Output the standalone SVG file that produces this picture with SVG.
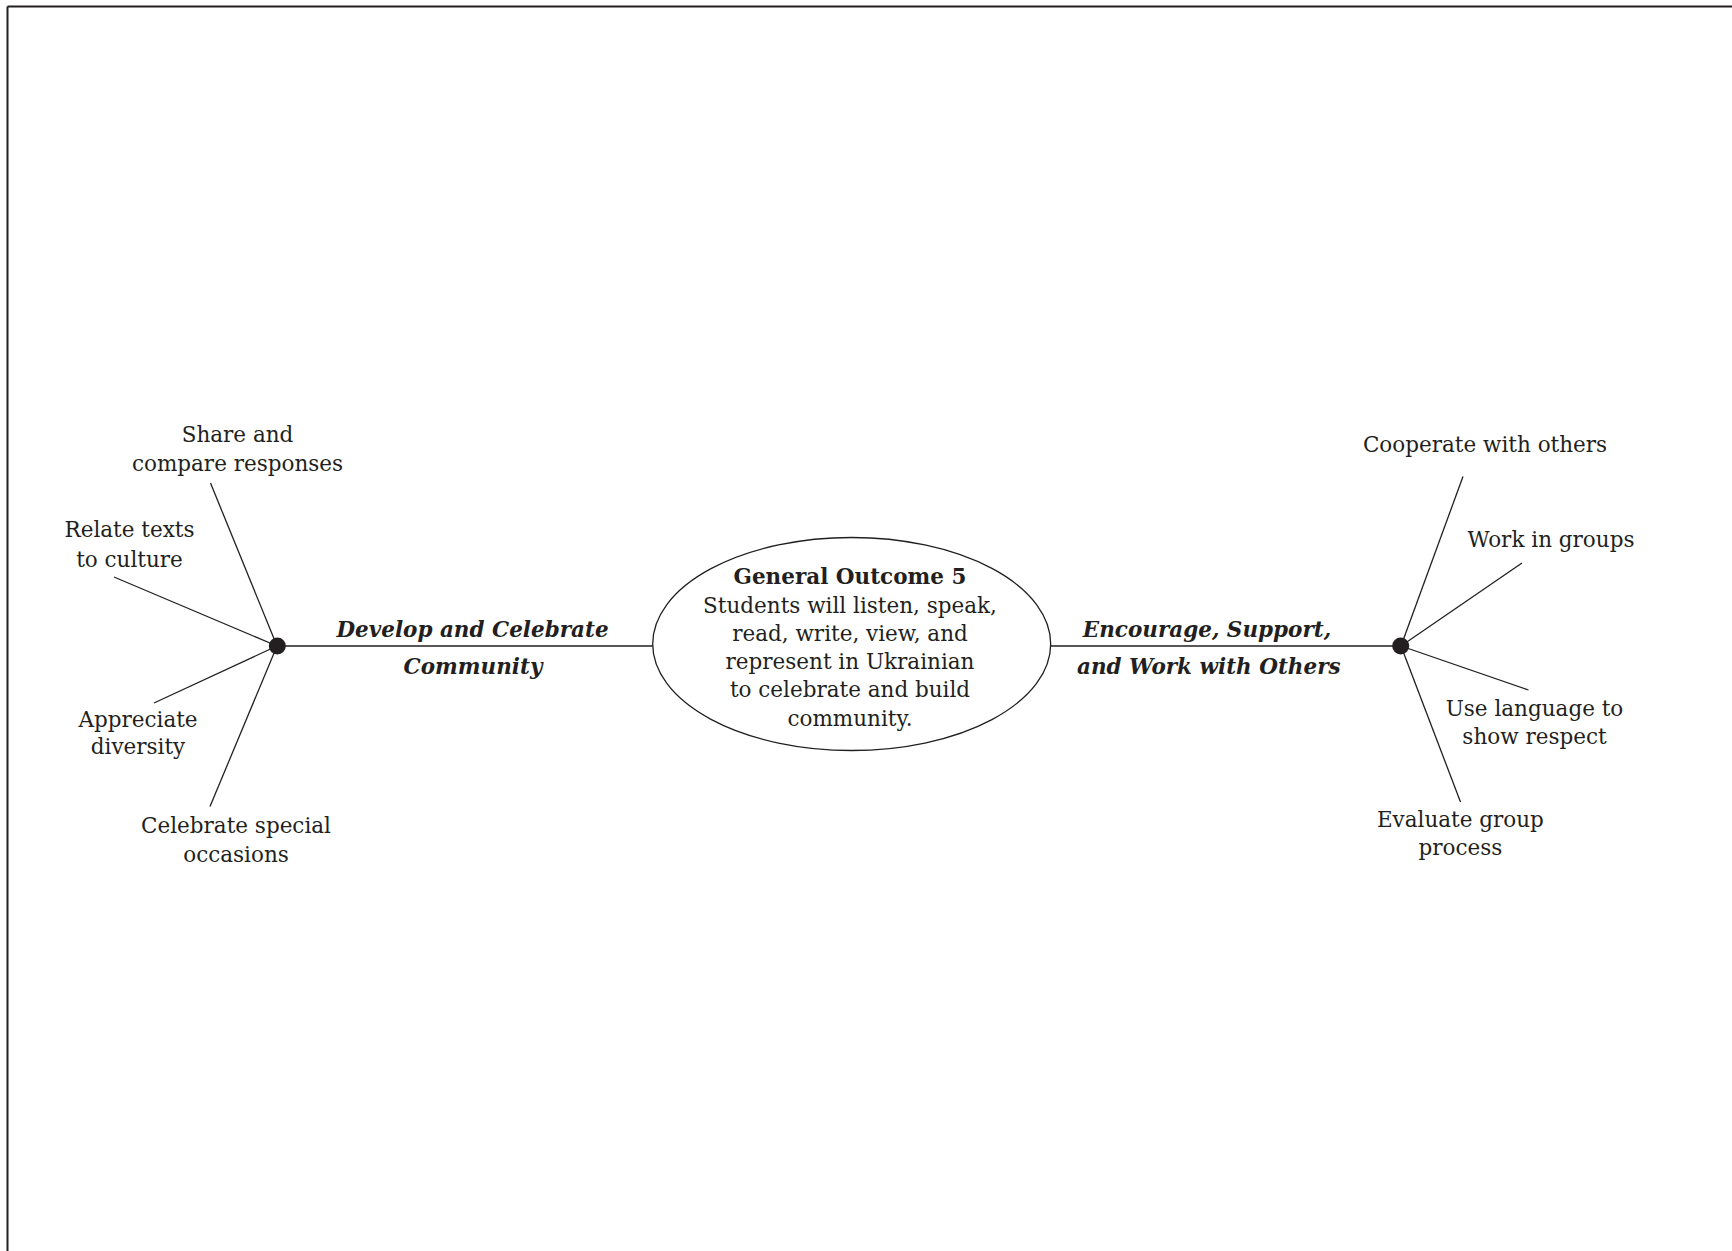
<svg xmlns="http://www.w3.org/2000/svg" width="1732" height="1251" viewBox="0 0 1732 1251">
<style>
  text { font-family: "DejaVu Serif", "Liberation Serif", serif; font-size: 21.5px; fill: #231f20; text-anchor: middle; }
  .lbl { font-weight: bold; font-style: italic; }
  .title { font-weight: bold; }
  .ln { stroke: #231f20; stroke-width: 1.3; fill: none; }
  .dot { fill: #231f20; }
</style>
<rect width="1732" height="1251" fill="#ffffff"/>
<g id="frame">
  <line x1="7.5" y1="6.5" x2="1732" y2="6.5" stroke="#231f20" stroke-width="2"/>
  <line x1="7.5" y1="6.5" x2="7.5" y2="1251" stroke="#231f20" stroke-width="2"/>
</g>
<g id="connectors">
  <line class="ln" x1="277" y1="646" x2="653" y2="646"/>
  <line class="ln" x1="1050.5" y1="646" x2="1401" y2="646"/>
  <line class="ln" x1="277" y1="646" x2="210.5" y2="483"/>
  <line class="ln" x1="277" y1="646" x2="114" y2="577"/>
  <line class="ln" x1="277" y1="646" x2="154" y2="703"/>
  <line class="ln" x1="277" y1="646" x2="210" y2="806.5"/>
  <line class="ln" x1="1401" y1="646" x2="1463" y2="476.5"/>
  <line class="ln" x1="1401" y1="646" x2="1522" y2="563"/>
  <line class="ln" x1="1401" y1="646" x2="1528.5" y2="690"/>
  <line class="ln" x1="1401" y1="646" x2="1460.5" y2="802"/>
</g>
<g id="center">
  <ellipse cx="851.7" cy="644" rx="199" ry="106.5" fill="#ffffff" stroke="#231f20" stroke-width="1.3"/>
  <text class="title" x="850" y="584">General Outcome 5</text>
  <text x="850" y="612.7">Students will listen, speak,</text>
  <text x="850" y="640.7">read, write, view, and</text>
  <text x="850" y="669.3">represent in Ukrainian</text>
  <text x="850" y="697.3">to celebrate and build</text>
  <text x="850" y="726">community.</text>
</g>
<g id="hub-left"><circle class="dot" cx="277.3" cy="646" r="8.5"/></g>
<g id="hub-right"><circle class="dot" cx="1400.7" cy="646" r="8.5"/></g>
<g id="label-left">
  <text class="lbl" x="472.5" y="636.7">Develop and Celebrate</text>
  <text class="lbl" x="473" y="674">Community</text>
</g>
<g id="label-right">
  <text class="lbl" x="1207" y="636.7">Encourage, Support,</text>
  <text class="lbl" x="1208.8" y="674">and Work with Others</text>
</g>
<g id="share">
  <text x="237.5" y="441.7">Share and</text>
  <text x="237.5" y="470.7">compare responses</text>
</g>
<g id="relate">
  <text x="129.5" y="537.3">Relate texts</text>
  <text x="129.5" y="566.7">to culture</text>
</g>
<g id="appreciate">
  <text x="138" y="726.7">Appreciate</text>
  <text x="138" y="754">diversity</text>
</g>
<g id="celebrate">
  <text x="236" y="832.7">Celebrate special</text>
  <text x="236" y="861.7">occasions</text>
</g>
<g id="cooperate">
  <text x="1485" y="451.7">Cooperate with others</text>
</g>
<g id="work">
  <text x="1551" y="547.3">Work in groups</text>
</g>
<g id="respect">
  <text x="1534.5" y="716">Use language to</text>
  <text x="1534.5" y="744">show respect</text>
</g>
<g id="evaluate">
  <text x="1460.4" y="827.3">Evaluate group</text>
  <text x="1460.4" y="855">process</text>
</g>
</svg>
